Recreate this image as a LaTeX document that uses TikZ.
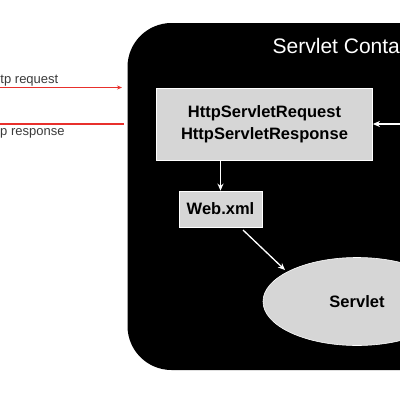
\documentclass[tikz,border=0pt]{standalone}
\usepackage{fontspec}
\setmainfont{Liberation Sans}
\usetikzlibrary{arrows.meta,shapes.geometric}
\definecolor{redline}{HTML}{E8302C}
\definecolor{boxgray}{HTML}{D6D6D6}
\definecolor{labelgray}{HTML}{3A3A3A}
\tikzset{
  graybox/.style={draw=white, line width=0.8pt, fill=boxgray, inner sep=0pt, font=\fontsize{16.5}{22}\selectfont\bfseries, align=center},
  whitearrow/.style={draw=white, line width=1.3pt, -{Stealth[length=7pt,width=6pt]}},
  redarrow/.style={draw=redline, line width=1.1pt, -{Stealth[length=5pt,width=4pt]}},
  redlabel/.style={text=labelgray, font=\fontsize{13}{15}\selectfont, anchor=base west, inner sep=0pt},
}
\begin{document}
\begin{tikzpicture}[x=1pt,y=-1pt]
\useasboundingbox (0,0) rectangle (400,400);
\clip (0,0) rectangle (400,400);
% container
\fill[black, rounded corners=44pt] (127.5,23) rectangle (460,370);
\node[anchor=base west, text=white, font=\fontsize{21}{24}\selectfont, inner sep=0pt] (title) at (272.5,53.3) {Servlet Conta};
% request/response box
\node[graybox, minimum width=216pt, minimum height=72pt] (req) at (264.5,124) {HttpServletRequest\\HttpServletResponse};
% web.xml
\node[graybox, minimum width=83pt, minimum height=36pt] (web) at (220.5,209) {Web.xml};
% servlet ellipse
\node[ellipse, fill=boxgray, draw=white, line width=0.6pt, minimum width=188pt, minimum height=88pt, font=\fontsize{16.5}{20}\selectfont\bfseries] (servlet) at (357,301.5) {Servlet};
% arrows
\coordinate (rin) at (420,124);
\draw[whitearrow] (rin) -- (req.east);
\draw[whitearrow] (req.south -| web.north) -- (web.north);
\coordinate (ws) at (243,230);
\coordinate (we) at (285,270);
\draw[whitearrow] (ws) -- (we);
% red arrows
\coordinate (reqs) at (-20,87.5);
\coordinate (reqe) at (122,87.5);
\draw[redarrow] (reqs) -- (reqe);
\coordinate (ress) at (124,124);
\coordinate (rese) at (-20,124);
\draw[redarrow] (ress) -- (rese);
\node[redlabel] (reql) at (0.3,83.5) {tp request};
\node[redlabel] (resl) at (0,135) {p response};
\end{tikzpicture}
\end{document}
